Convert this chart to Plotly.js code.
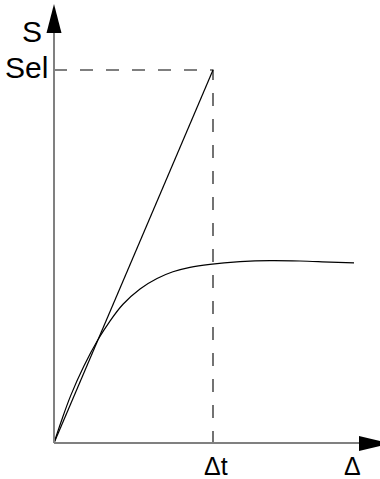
<!DOCTYPE html>
<html>
<head>
<meta charset="utf-8">
<script src="https://cdn.plot.ly/plotly-3.0.1.min.js"></script>
<style>
  html, body { margin: 0; padding: 0; background: #fff; }
  #chart { width: 380px; height: 479px; }
</style>
</head>
<body>
<div id="chart"></div>
<script>
// Displacement (Δ) normalised so that Δt = 1, force (S) normalised so that Sel = 1
const deltaElastic = [0, 1];
const sElastic = [0, 1];

const deltaCurve = [0, 0.048, 0.105, 0.189, 0.278, 0.352, 0.434, 0.541, 0.648, 0.748, 0.855, 0.981, 1.170, 1.358, 1.547, 1.736, 1.887];
const sCurve     = [0, 0.061, 0.127, 0.207, 0.278, 0.327, 0.372, 0.413, 0.441, 0.459, 0.471, 0.479, 0.486, 0.489, 0.488, 0.485, 0.483];

const deltaT = 1;
const sEl = 1;

const labelS = 'S';
const labelSel = 'Sel';
const labelDeltaT = 'Δt';
const labelDelta = 'Δ';

// Page geometry (pixels)
const W = 380, H = 479;
const OX = 54, OY = 443;       // origin
const UX = 159, UY = 373;      // pixels per unit

const xRange = [-OX / UX, (W - OX) / UX];
const yRange = [(OY - H) / UY, OY / UY];

const px = v => v / W;          // pixel -> paper x
const py = v => 1 - v / H;      // pixel -> paper y

const axisColor = '#808080';
const font = { family: 'Liberation Sans, Arial, sans-serif', color: '#000' };

const traces = [
  {
    x: [0, deltaT, deltaT], y: [sEl, sEl, 0],
    mode: 'lines', line: { color: '#000', width: 1.1, dash: '13px,13px' },
    hoverinfo: 'skip'
  },
  {
    x: deltaElastic, y: sElastic,
    mode: 'lines', line: { color: '#000', width: 1.2 },
    hoverinfo: 'skip'
  },
  {
    x: deltaCurve, y: sCurve,
    mode: 'lines', line: { color: '#000', width: 1.2, shape: 'spline', smoothing: 1 },
    hoverinfo: 'skip'
  }
];

const shapes = [
  // axes
  { type: 'line', xref: 'paper', yref: 'paper', x0: px(OX), y0: py(OY), x1: px(OX), y1: py(30),
    line: { color: axisColor, width: 2 } },
  { type: 'line', xref: 'paper', yref: 'paper', x0: px(OX), y0: py(OY), x1: px(362), y1: py(OY),
    line: { color: axisColor, width: 2 } },
  // arrow heads
  { type: 'path', xref: 'paper', yref: 'paper',
    path: `M ${px(OX)} ${py(4)} L ${px(OX - 7.5)} ${py(33)} L ${px(OX + 7.5)} ${py(33)} Z`,
    fillcolor: '#000', line: { width: 0 } },
  { type: 'path', xref: 'paper', yref: 'paper',
    path: `M ${px(390)} ${py(OY + 0.5)} L ${px(359)} ${py(OY - 7)} L ${px(359)} ${py(OY + 8)} Z`,
    fillcolor: '#000', line: { width: 0 } }
];

const annotations = [
  { text: labelS, xref: 'paper', yref: 'paper', x: px(32), y: py(31),
    xanchor: 'center', yanchor: 'middle', showarrow: false, font: { ...font, size: 30 } },
  { text: labelSel, xref: 'paper', yref: 'paper', x: px(50), y: py(68),
    xanchor: 'right', yanchor: 'middle', showarrow: false, font: { ...font, size: 30 } },
  { text: labelDeltaT, xref: 'x', yref: 'paper', x: deltaT, y: py(466),
    xanchor: 'center', yanchor: 'middle', xshift: 3, showarrow: false, font: { ...font, size: 25 } },
  { text: labelDelta, xref: 'paper', yref: 'paper', x: px(352), y: py(466),
    xanchor: 'center', yanchor: 'middle', showarrow: false, font: { ...font, size: 25 } }
];

const layout = {
  width: W, height: H,
  margin: { l: 0, r: 0, t: 0, b: 0 },
  paper_bgcolor: '#fff', plot_bgcolor: '#fff',
  showlegend: false,
  xaxis: { range: xRange, visible: false, fixedrange: true },
  yaxis: { range: yRange, visible: false, fixedrange: true },
  shapes: shapes,
  annotations: annotations
};

Plotly.newPlot('chart', traces, layout, { staticPlot: true, displayModeBar: false });
</script>
</body>
</html>
